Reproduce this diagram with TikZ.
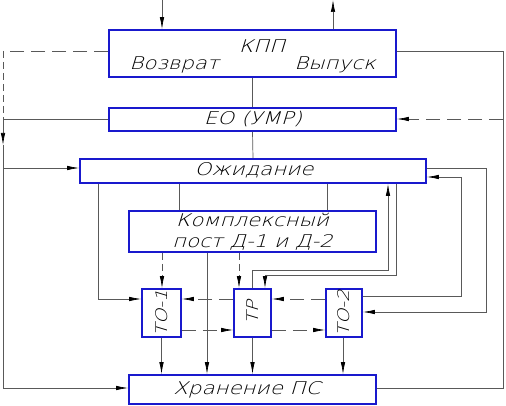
\documentclass[tikz,border=0pt]{standalone}
\usepackage{fontspec}
\usetikzlibrary{arrows.meta}
\IfFontExistsTF{DejaVu Sans ExtraLight}{%
  \newfontfamily\gost[FakeSlant=0.3,FakeStretch=1.22]{DejaVu Sans ExtraLight}}{%
  \newfontfamily\gost[FakeSlant=0.3,FakeStretch=1.22]{DejaVu Sans}}
\definecolor{bx}{RGB}{25,25,205}
\begin{document}
\begin{tikzpicture}[x=1pt,y=-1pt,
  box/.style={draw=bx,line width=1.8pt,fill=white,inner sep=0pt},
  lbl/.style={inner sep=0pt,font=\gost\fontsize{17.5}{21}\selectfont},
  slbl/.style={inner sep=0pt,font=\gost\fontsize{16}{18}\selectfont},
  ln/.style={draw=black!65,line width=0.7pt},
  tip/.style={-{Latex[length=12pt,width=4.5pt,black]}},
  arr/.style={ln,tip},
  dsh/.style={dash pattern=on 14pt off 7pt}]
\useasboundingbox (0,0) rectangle (506,406);
% boxes
\node[box,minimum width=287pt,minimum height=47pt] (kpp) at (252.5,53.5) {};
\node[box,minimum width=287pt,minimum height=23pt] (eo) at (252.5,119.5) {};
\node[box,minimum width=346pt,minimum height=24pt] (ozh) at (253,171) {};
\node[box,minimum width=247pt,minimum height=41pt] (kom) at (252.5,231.5) {};
\node[box,minimum width=39pt,minimum height=48pt] (to1) at (161.5,313) {};
\node[box,minimum width=37pt,minimum height=48pt] (tr) at (252.5,313) {};
\node[box,minimum width=36pt,minimum height=48pt] (to2) at (344,313) {};
\node[box,minimum width=247pt,minimum height=29pt] (hr) at (252.5,389.5) {};
% labels
\node[lbl] (tkpp) at (262,46) {КПП};
\node[lbl] (tvoz) at (174,65) {Возврат};
\node[lbl] (tvyp) at (335,65) {Выпуск};
\node[lbl] (teo) at (253,119.5) {ЕО (УМР)};
\node[lbl] (tozh) at (254,170) {Ожидание};
\node[lbl,align=center] (tkom) at (252.5,232) {Комплексный\\пост Д-1 и Д-2};
\node[slbl,rotate=90] (tto1) at (161.5,313) {ТО-1};
\node[slbl,rotate=90] (ttr) at (252.5,313) {ТР};
\node[slbl,rotate=90] (tto2) at (344,313) {ТО-2};
\node[lbl] (thr) at (247,390) {Хранение ПС};
% free ends
\coordinate (inT) at (162,0);
\coordinate (outT) at (333,0);
\coordinate (L1) at (3,51);
\coordinate (L2) at (3,119);
\coordinate (L3) at (3,145);
\coordinate (L4) at (3,168);
\coordinate (L5) at (3,388);
\coordinate (R1) at (503,51);
\coordinate (R2) at (503,119);
\coordinate (R5) at (503,388);
% top
\draw[arr] (inT) -- (inT |- kpp.north);
\draw[arr] (outT |- kpp.north) -- (outT);
% left side
\draw[ln,dash pattern=on 14pt off 7pt] (kpp.west |- L1) -- (L1);
\draw[ln,dash pattern=on 7pt off 4pt] (L1) -- (L2);
\draw[ln] (eo.west |- L2) -- (L2);
\draw[arr] (L2) -- (L3);
\draw[ln] (L3) -- (L5);
\draw[arr] (L5) -- (hr.west |- L5);
\draw[arr] (L4) -- (ozh.west |- L4);
% right side
\draw[ln] (kpp.east |- R1) -- (R1) -- (R5) -- (hr.east |- R5);
\draw[arr,dsh] (R2) -- (eo.east |- R2);
% spine
\draw[ln] (kpp.south) -- (eo.north);
\draw[ln] (eo.south) -- (ozh.north);
% ozh right loops
\draw[arr] (ozh.east |- 0,168) -- (486,168) -- (486,312) -- (to2.east |- 0,312);
\draw[arr] (to2.east |- 0,296) -- (461,296) -- (461,177) -- (ozh.east |- 0,177);
% ozh bottom
\draw[arr] (ozh.south -| 98,0) -- (98,299) -- (to1.west |- 0,299);
\draw[ln] (ozh.south -| 179,0) -- (kom.north -| 179,0);
\draw[ln] (ozh.south -| 327,0) -- (kom.north -| 327,0);
\draw[arr] (tr.north -| 252,0) -- (252,270) -- (388,270) -- (ozh.south -| 388,0);
\draw[arr] (ozh.south -| 396,0) -- (396,275) -- (265,275) -- (tr.north -| 265,0);
% kom bottom
\draw[arr,dash pattern=on 7pt off 4pt] (kom.south -| 162,0) -- (to1.north -| 162,0);
\draw[arr,dash pattern=on 7pt off 4pt] (kom.south -| 239,0) -- (tr.north -| 239,0);
\draw[arr] (kom.south -| 207,0) -- (hr.north -| 207,0);
% between TO boxes
\draw[arr,dsh] (tr.west |- 0,299) -- (to1.east |- 0,299);
\draw[arr,dsh] (to1.east |- 0,330) -- (tr.west |- 0,330);
\draw[arr,dsh] (to2.west |- 0,299) -- (tr.east |- 0,299);
\draw[arr,dsh] (tr.east |- 0,330) -- (to2.west |- 0,330);
% to storage
\draw[arr] (to1.south) -- (hr.north -| to1.south);
\draw[arr] (tr.south) -- (hr.north -| tr.south);
\draw[arr] (to2.south -| 343,0) -- (hr.north -| 343,0);
\end{tikzpicture}
\end{document}
